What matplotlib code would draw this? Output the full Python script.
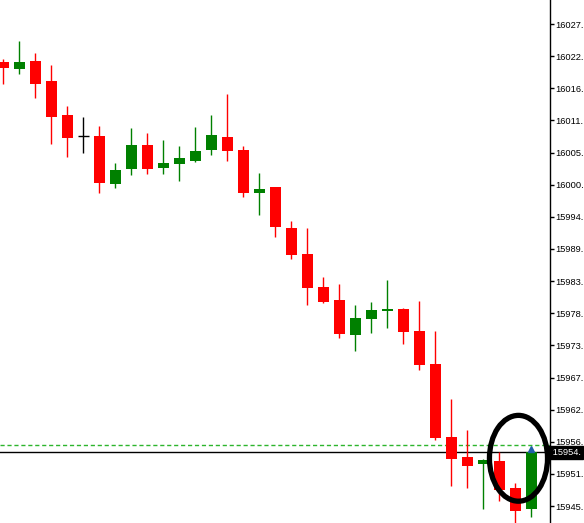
#Candlestick snapshot, MT4 style, with last bar circled
import matplotlib.pyplot as plt
from matplotlib.patches import Ellipse
from matplotlib.transforms import blended_transform_factory

plt.rcParams.update({"font.family":["Liberation Sans","DejaVu Sans"],"font.size":6.7})

opens  = [16021.09,16020.00,16021.31,16017.91,16012.12,16008.55,16008.55,16000.38,16002.93,16007.02,
          16003.16,16003.78,16004.29,16006.17,16008.38,16006.17,15998.85,15999.87,15992.90,15988.47,
          15982.86,15980.65,15974.74,15977.47,15978.83,15979.12,15975.37,15969.76,15957.34,15953.94,
          15952.69,15953.26,15948.66,15945.14]
highs  = [16021.65,16024.71,16022.67,16020.63,16013.65,16011.78,16010.30,16003.95,16009.91,16009.06,
          16007.87,16006.85,16010.08,16012.12,16015.69,16006.85,16002.25,15999.87,15994.09,15992.90,
          15984.61,15983.37,15979.80,15980.31,15984.05,15979.34,15980.48,15975.37,15963.80,15958.53,
          15953.65,15954.74,15949.51,15954.74]
lows   = [16017.45,16019.15,16015.06,16007.14,16005.03,16005.60,15998.90,15999.75,16001.91,16002.08,
          16002.08,16000.89,16004.12,16005.32,16004.35,15998.22,15995.16,15991.42,15987.67,15979.85,
          15980.19,15974.23,15972.02,15975.08,15975.93,15973.21,15968.79,15956.83,15949.05,15948.71,
          15945.14,15946.50,15942.76,15943.78]
closes = [16020.17,16021.09,16017.45,16011.83,16008.26,16008.55,16000.60,16002.76,16007.02,16002.93,
          16003.95,16004.86,16006.00,16008.72,16006.05,15998.90,15999.53,15993.12,15988.35,15982.74,
          15980.31,15974.91,15977.58,15978.95,15979.12,15975.20,15969.64,15957.22,15953.65,15952.46,
          15953.48,15948.37,15944.80,15954.74]

tick_vals = [15945.60,15951.07,15956.53,15962.00,15967.46,15972.93,15978.40,15983.86,
             15989.33,15994.79,16000.26,16005.73,16011.19,16016.66,16022.12,16027.59]
tick_labels = ["15945.","15951.","15956.","15962.","15967.","15973.","15978.","15983.",
               "15989.","15994.","16000.","16005.","16011.","16016.","16022.","16027."]
bid = 15954.74
ask = 15955.93

RED="#FF0000"; GREEN="#008000"

fig = plt.figure(figsize=(5.84,5.23), dpi=100)
ax = fig.add_axes([0,0,550/584,1])

w = 0.67
for i,(o,h,l,c) in enumerate(zip(opens,highs,lows,closes)):
    if o == c:
        col = "black"
        ax.vlines(i, l, h, color=col, lw=1)
        ax.hlines(o, i-w/2, i+w/2, color=col, lw=1)
        continue
    col = GREEN if c > o else RED
    ax.vlines(i, l, h, color=col, lw=1, zorder=2)
    ax.bar(i, abs(c-o), bottom=min(o,c), width=w, color=col, lw=0, zorder=3, antialiased=False)

ax.axhline(bid, color="black", lw=1, zorder=1)
ax.axhline(ask, color="#2DB52D", lw=1, ls=(0,(3,2)), zorder=1)
ax.plot(len(closes)-1, bid+0.55, marker="^", color="#1F5FA8", ms=5, zorder=5)

#circle round the last bars
ax.add_patch(Ellipse((32.2,15953.72), 3.63, 14.6, fill=False, ec="black", lw=3.8, zorder=6))

ax.set_xlim(-0.206, 34.17)
ax.set_ylim(15942.71, 16031.69)
ax.spines[["top","left","bottom"]].set_visible(False)
ax.spines["right"].set_linewidth(1)
ax.set_xticks([])
ax.yaxis.tick_right()
ax.set_yticks(tick_vals)
ax.set_yticklabels(tick_labels)
ax.tick_params(axis="y", length=3, width=1, pad=1, direction="out", colors="black")

tr = blended_transform_factory(ax.transAxes, ax.transData)
ax.text(1.0, bid, " 15954.", transform=tr, ha="left", va="center", color="white",
        fontsize=6.7, bbox=dict(boxstyle="square,pad=0.2", fc="black", ec="black"), zorder=7,
        clip_on=False)

fig.savefig("out.png", dpi=100)
